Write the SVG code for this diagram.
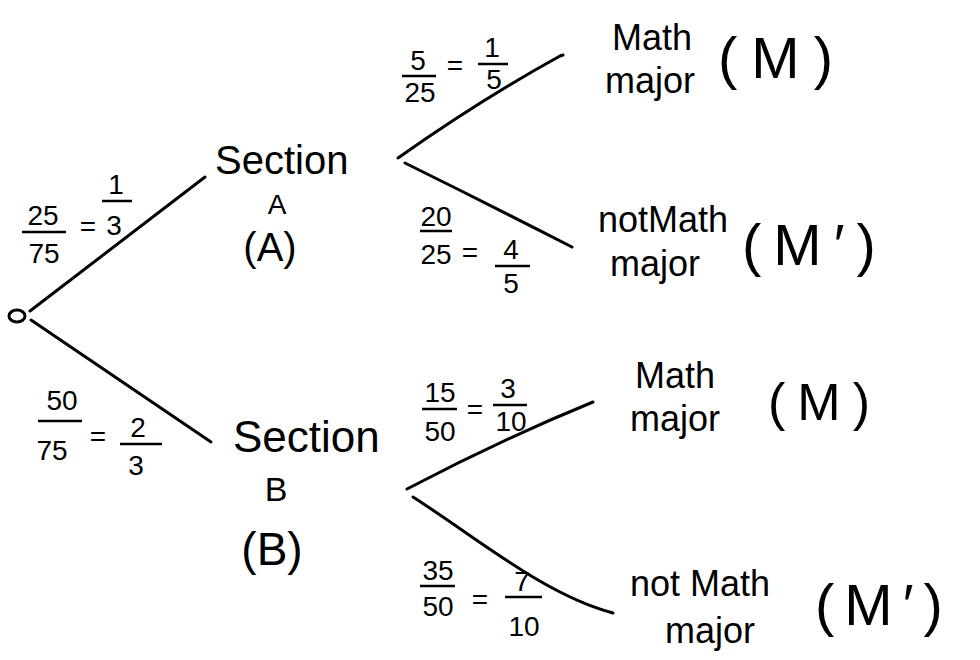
<svg xmlns="http://www.w3.org/2000/svg" width="980" height="660" viewBox="0 0 980 660">
<style>
  text { font-family: "Liberation Sans", "DejaVu Sans", sans-serif; fill: #000; }
  .big { font-size: 40px; }
  .lbl { font-size: 36px; }
  .fr { font-size: 28px; text-anchor: middle; }
  .bar { stroke: #000; stroke-width: 2.5; fill: none; }
  .edge { stroke: #000; stroke-width: 3; fill: none; stroke-linecap: round; }
  .mid { text-anchor: middle; }
</style>
<rect width="980" height="660" fill="#fff"/>

<g id="connectors">
  <path class="edge" d="M30,311 L205,177"/>
  <path class="edge" d="M31,320 L211,442"/>
  <path class="edge" d="M398,158 Q480,100 560,56 L563,55"/>
  <path class="edge" d="M405,163 Q490,205 572,247"/>
  <path class="edge" d="M407,489 Q500,440 593,402"/>
  <path class="edge" d="M413,497 C480,540 545,595 613,613"/>
</g>

<g id="edge-labels">
  <g id="lbl-root-A">
    <text class="fr" x="43" y="225">25</text>
    <line class="bar" x1="22" y1="232" x2="66" y2="232"/>
    <text class="fr" x="44" y="263">75</text>
    <text class="fr" x="88" y="236">=</text>
    <text class="fr" x="116" y="194">1</text>
    <line class="bar" x1="102" y1="201" x2="132" y2="201"/>
    <text class="fr" x="114" y="235">3</text>
  </g>
  <g id="lbl-root-B">
    <text class="fr" x="62" y="410">50</text>
    <line class="bar" x1="38" y1="421" x2="82" y2="421"/>
    <text class="fr" x="52" y="460">75</text>
    <text class="fr" x="98" y="446">=</text>
    <text class="fr" x="138" y="437">2</text>
    <line class="bar" x1="120" y1="444" x2="162" y2="444"/>
    <text class="fr" x="136" y="475">3</text>
  </g>
  <g id="lbl-A-M">
    <text class="fr" x="418" y="70">5</text>
    <line class="bar" x1="402" y1="76" x2="436" y2="76"/>
    <text class="fr" x="420" y="102">25</text>
    <text class="fr" x="455" y="75">=</text>
    <text class="fr" x="492" y="57">1</text>
    <line class="bar" x1="478" y1="64" x2="508" y2="64"/>
    <text class="fr" x="494" y="89">5</text>
  </g>
  <g id="lbl-A-notM">
    <text class="fr" x="436" y="226">20</text>
    <line class="bar" x1="420" y1="231" x2="452" y2="231"/>
    <text class="fr" x="436" y="264">25</text>
    <text class="fr" x="470" y="262">=</text>
    <text class="fr" x="511" y="259">4</text>
    <line class="bar" x1="495" y1="266" x2="530" y2="266"/>
    <text class="fr" x="511" y="293">5</text>
  </g>
  <g id="lbl-B-M">
    <text class="fr" x="440" y="402">15</text>
    <line class="bar" x1="422" y1="409" x2="457" y2="409"/>
    <text class="fr" x="440" y="441">50</text>
    <text class="fr" x="475" y="419">=</text>
    <text class="fr" x="508" y="398">3</text>
    <line class="bar" x1="493" y1="405" x2="527" y2="405"/>
    <text class="fr" x="511" y="431">10</text>
  </g>
  <g id="lbl-B-notM">
    <text class="fr" x="438" y="580">35</text>
    <line class="bar" x1="420" y1="586" x2="455" y2="586"/>
    <text class="fr" x="438" y="616">50</text>
    <text class="fr" x="480" y="609">=</text>
    <text class="fr" x="522" y="591">7</text>
    <line class="bar" x1="505" y1="597" x2="542" y2="597"/>
    <text class="fr" x="524" y="636">10</text>
  </g>
</g>

<g id="root">
  <ellipse cx="17" cy="316" rx="8" ry="6" fill="none" stroke="#000" stroke-width="3"/>
</g>

<g id="section-a">
  <text class="big" x="215" y="174">Section</text>
  <text class="mid" x="277" y="214" font-size="28">A</text>
  <text class="big mid" x="270" y="261">(A)</text>
</g>

<g id="section-b">
  <text x="233" y="452" font-size="44">Section</text>
  <text class="mid" x="276" y="501" font-size="34">B</text>
  <text class="mid" x="272" y="565" font-size="46">(B)</text>
</g>

<g id="leaf-a-m">
  <text class="lbl" x="612" y="50">Math</text>
  <text class="lbl" x="605" y="93">major</text>
  <text x="718" y="78" font-size="58" letter-spacing="14">(M)</text>
</g>

<g id="leaf-a-notm">
  <text class="lbl" x="598" y="232">notMath</text>
  <text class="lbl" x="610" y="276">major</text>
  <text x="742" y="265" font-size="58" letter-spacing="12">(M′)</text>
</g>

<g id="leaf-b-m">
  <text class="lbl" x="635" y="388">Math</text>
  <text class="lbl" x="630" y="431">major</text>
  <text x="768" y="420" font-size="52" letter-spacing="12">(M)</text>
</g>

<g id="leaf-b-notm">
  <text class="lbl" x="630" y="596">not Math</text>
  <text class="lbl" x="665" y="643">major</text>
  <text x="815" y="625" font-size="58" letter-spacing="10">(M′)</text>
</g>
</svg>
